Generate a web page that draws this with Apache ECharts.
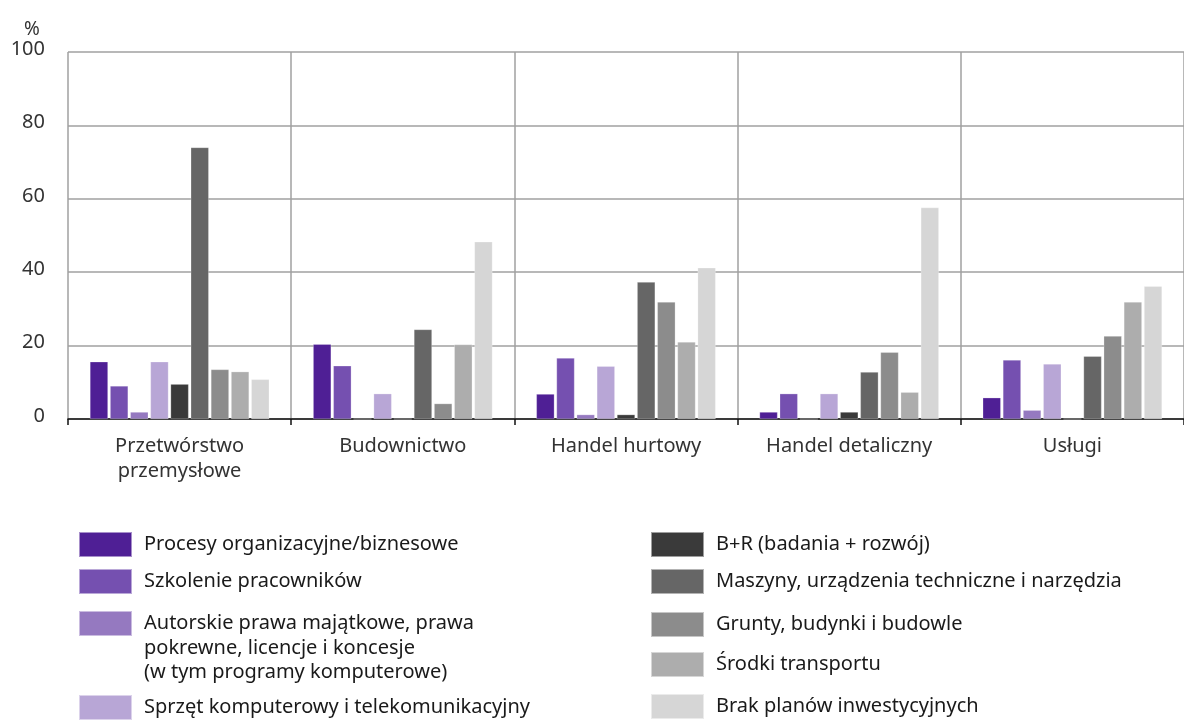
<!DOCTYPE html>
<html>
<head>
<meta charset="utf-8">
<script src="https://cdn.jsdelivr.net/npm/echarts@6/dist/echarts.min.js"></script>
<style>
  html, body { margin: 0; padding: 0; background: #fff; }
  #chart { width: 1184px; height: 720px; }
</style>
</head>
<body>
<div id="chart"></div>
<script>
// kategorie (sekcje)
const categories = ['Przetwórstwo\nprzemysłowe', 'Budownictwo', 'Handel hurtowy', 'Handel detaliczny', 'Usługi'];
const yTicks = [0, 20, 40, 60, 80, 100];

// wartości w %
const procesy = [15.6, 20.4, 6.8, 1.9, 5.8];
const szkolenie = [9.0, 14.5, 16.6, 6.9, 16.1];
const autorskie = [1.9, 0, 1.2, 0, 2.4];
const sprzet = [15.6, 6.9, 14.4, 6.9, 15.0];
const bir = [9.5, 0, 1.2, 1.9, 0];
const maszyny = [74.0, 24.4, 37.3, 12.8, 17.1];
const grunty = [13.5, 4.2, 31.9, 18.2, 22.6];
const srodki = [12.9, 20.3, 21.0, 7.3, 31.9];
const brak = [10.8, 48.3, 41.2, 57.6, 36.2];

const names = [
  'Procesy organizacyjne/biznesowe',
  'Szkolenie pracowników',
  'Autorskie prawa majątkowe, prawa\npokrewne, licencje i koncesje\n(w tym programy komputerowe)',
  'Sprzęt komputerowy i telekomunikacyjny',
  'B+R (badania + rozwój)',
  'Maszyny, urządzenia techniczne i narzędzia',
  'Grunty, budynki i budowle',
  'Środki transportu',
  'Brak planów inwestycyjnych'
];
const colors = ['#4f1f95', '#7550b0', '#9579c0', '#b8a6d6', '#3a3a3a', '#666666', '#8c8c8c', '#adadad', '#d6d6d6'];
const values = [procesy, szkolenie, autorskie, sprzet, bir, maszyny, grunty, srodki, brak];

const font = '"Noto Sans", sans-serif';

// pozycje legendy: lewa i prawa kolumna
const legendPos = [
  [78, 531], [78, 568], [78, 610], [78, 694],
  [650, 531], [650, 568], [650, 611], [650, 651], [650, 693]
];

const legends = names.map((n, i) => ({
  left: legendPos[i][0],
  top: legendPos[i][1],
  padding: 0,
  data: [n],
  icon: 'rect',
  itemWidth: 53,
  itemHeight: 25,
  itemGap: 0,
  selectedMode: false,
  formatter: (name) => name.split('\n')[0],
  textStyle: { fontFamily: font, fontSize: 20, color: '#1a1a1a', padding: [0, 0, 0, 7] }
}));

const chart = echarts.init(document.getElementById('chart'), null, { renderer: 'canvas' });
chart.setOption({
  animation: false,
  color: colors,
  grid: { left: 68, right: -4, top: 52, bottom: 301, containLabel: false },
  legend: legends,
  graphic: [
    { type: 'text', left: 24, top: 20, style: { text: '%', font: '19px ' + font, fill: '#333' } },
    {
      type: 'text', left: 144, top: 636,
      style: { text: names[2].split('\n').slice(1).join('\n'), font: '20px ' + font, lineHeight: 24, fill: '#1a1a1a' }
    }
  ],
  xAxis: {
    type: 'category',
    data: categories,
    axisLine: { lineStyle: { color: '#111', width: 1.5 } },
    axisTick: { show: true, length: 6, lineStyle: { color: '#111', width: 1.5 } },
    axisLabel: { fontFamily: font, fontSize: 20, color: '#333', lineHeight: 25, margin: 15, interval: 0 },
    splitLine: { show: true, interval: 0, lineStyle: { color: '#a0a0a0', width: 1.5 } }
  },
  yAxis: {
    type: 'value',
    min: yTicks[0],
    max: yTicks[yTicks.length - 1],
    interval: 20,
    axisLine: { show: false },
    axisTick: { show: false },
    axisLabel: { fontFamily: font, fontSize: 20, color: '#333', margin: 23, verticalAlign: 'bottom', lineHeight: 20, padding: [0, 0, -7, 0] },
    splitLine: { lineStyle: { color: '#a0a0a0', width: 1.5 } }
  },
  series: values.map((v, i) => ({
    name: names[i],
    type: 'bar',
    data: v,
    barWidth: 18,
    barGap: '12%',
    itemStyle: { color: colors[i], borderColor: 'rgba(255,255,255,0.5)', borderWidth: 0.5 }
  }))
});
</script>
</body>
</html>
